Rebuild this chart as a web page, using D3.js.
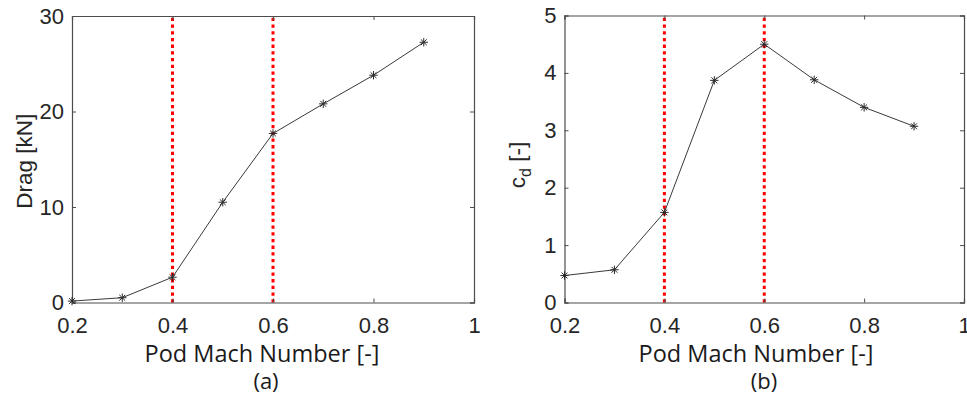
<!DOCTYPE html>
<html>
<head>
<meta charset="utf-8">
<script src="https://cdn.jsdelivr.net/npm/d3@7"></script>
<style>
  html, body { margin: 0; padding: 0; background: #fff; }
  svg { display: block; }
</style>
</head>
<body>
<svg id="chart" width="967" height="404"></svg>
<script>
// ---- data ----
const machNumbers = [0.2, 0.3, 0.4, 0.5, 0.6, 0.7, 0.8, 0.9];
const dragValues = [0.15, 0.5, 2.65, 10.5, 17.7, 20.8, 23.8, 27.25];
const cdValues = [0.47, 0.57, 1.57, 3.87, 4.5, 3.88, 3.40, 3.07];
const markerLines = [0.4, 0.6];
const xTicks = [0.2, 0.4, 0.6, 0.8, 1];
const dragTicks = [0, 10, 20, 30];
const cdTicks = [0, 1, 2, 3, 4, 5];
const xTitle = "Pod Mach Number [-]";
const panelLabels = ["(a)", "(b)"];

const svg = d3.select("#chart");
const tickFont = "'Liberation Sans', Arial, sans-serif";
const titleFont = "'Open Sans', Lato, sans-serif";
const axisColor = "#4d4d4d";
const textColor = "#262626";

function drawPanel(cfg) {
  const x = d3.scaleLinear().domain([0.2, 1]).range([cfg.left, cfg.right]);
  const y = d3.scaleLinear().domain(cfg.yDomain).range([cfg.bottom, cfg.top]);
  const g = svg.append("g");

  // red dotted verticals
  g.selectAll("line.vref").data(markerLines).enter().append("line")
    .attr("x1", d => x(d)).attr("x2", d => x(d))
    .attr("y1", y(cfg.yDomain[0])).attr("y2", y(cfg.yDomain[1]))
    .attr("stroke", "#ff0000").attr("stroke-width", 3)
    .attr("stroke-dasharray", "3.3,3.4");

  // axes (inside ticks, box)
  const tickLen = 4;
  const fmt = d => String(d);
  const bottomAxis = d3.axisBottom(x).tickValues(xTicks).tickSize(-tickLen).tickFormat(fmt);
  const topAxis = d3.axisTop(x).tickValues(xTicks).tickSize(-tickLen).tickFormat("");
  const leftAxis = d3.axisLeft(y).tickValues(cfg.yTicks).tickSize(-tickLen).tickPadding(9).tickFormat(fmt);
  const rightAxis = d3.axisRight(y).tickValues(cfg.yTicks).tickSize(-tickLen).tickFormat("");

  const gb = g.append("g").attr("transform", `translate(0,${cfg.bottom})`).call(bottomAxis);
  const gt = g.append("g").attr("transform", `translate(0,${cfg.top})`).call(topAxis);
  const gl = g.append("g").attr("transform", `translate(${cfg.left},0)`).call(leftAxis);
  const gr = g.append("g").attr("transform", `translate(${cfg.right},0)`).call(rightAxis);
  [gb, gt, gl, gr].forEach(a => {
    a.select(".domain").attr("stroke", axisColor).attr("stroke-width", 1.2);
    a.selectAll(".tick line").attr("stroke", axisColor).attr("stroke-width", 1);
    a.selectAll(".tick text").attr("fill", textColor)
      .style("font-family", tickFont).style("font-size", "22px");
  });
  gb.selectAll(".tick text").attr("dy", null).attr("y", 30.5);
  gl.selectAll(".tick text").attr("x", -8);

  // line
  const line = d3.line().x((d, i) => x(machNumbers[i])).y(d => y(d));
  g.append("path").datum(cfg.values).attr("d", line)
    .attr("fill", "none").attr("stroke", "#3a3a3a").attr("stroke-width", 1);

  // asterisk markers
  const r = 4.2;
  const m = g.selectAll("g.mk").data(cfg.values).enter().append("g")
    .attr("transform", (d, i) => `translate(${x(machNumbers[i])},${y(d)})`);
  const segs = [[-r, 0, r, 0], [0, -r, 0, r], [-r * 0.7, -r * 0.7, r * 0.7, r * 0.7], [-r * 0.7, r * 0.7, r * 0.7, -r * 0.7]];
  segs.forEach(s => {
    m.append("line").attr("x1", s[0]).attr("y1", s[1]).attr("x2", s[2]).attr("y2", s[3])
      .attr("stroke", "#2a2a2a").attr("stroke-width", 1);
  });

  // x title
  g.append("text").attr("x", cfg.titleX).attr("y", 362).attr("text-anchor", "middle")
    .style("font-family", titleFont).style("font-size", "23.5px").attr("fill", "#1a1a1a")
    .text(xTitle);
  g.append("text").attr("x", cfg.panelX).attr("y", 389).attr("text-anchor", "middle")
    .style("font-family", titleFont).style("font-size", "22px").attr("fill", "#1a1a1a")
    .text(cfg.panel);

  // y title
  const yt = g.append("text")
    .attr("transform", `translate(${cfg.yTitleX},${(cfg.top + cfg.bottom) / 2 + cfg.yTitleShift}) rotate(-90)`)
    .attr("text-anchor", "middle")
    .style("font-family", tickFont).style("font-size", "22.5px").attr("fill", textColor);
  cfg.yTitle(yt);
}

drawPanel({
  left: 72, right: 474, top: 16, bottom: 302.5,
  yDomain: [0, 30], yTicks: dragTicks, values: dragValues,
  panel: panelLabels[0], panelX: 266, titleX: 262, yTitleX: 32, yTitleShift: 2,
  yTitle: t => t.text("Drag [kN]")
});
drawPanel({
  left: 564.5, right: 964, top: 15.5, bottom: 302.5,
  yDomain: [0, 5], yTicks: cdTicks, values: cdValues,
  panel: panelLabels[1], panelX: 764, titleX: 756, yTitleX: 525, yTitleShift: 6,
  yTitle: t => {
    t.append("tspan").text("c");
    t.append("tspan").attr("dy", 6).style("font-size", "16px").text("d");
    t.append("tspan").attr("dy", -6).text(" [-]");
  }
});
</script>
</body>
</html>
